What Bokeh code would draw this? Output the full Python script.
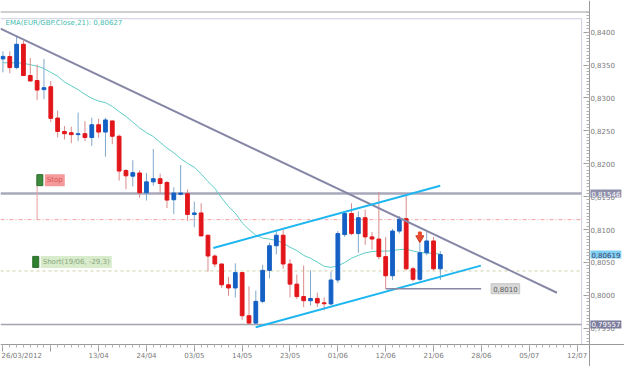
from bokeh.plotting import figure
from bokeh.models import Range1d, FixedTicker, CustomJSTickFormatter, Label, ColumnDataSource
from bokeh.embed import file_html
from bokeh.resources import INLINE

# ---------------- data (EUR/GBP daily, bar index 0 = 26/03/2012) ----------------
tick_idx = [0, 7, 14, 21, 28, 35, 42, 49, 56, 63, 70, 77, 84]
tick_labels = ["26/03/2012", "", "13/04", "24/04", "03/05", "14/05", "23/05",
               "01/06", "12/06", "21/06", "28/06", "05/07", "12/07"]

opens = [0.83592, 0.83628, 0.83461, 0.83815, 0.83340, 0.83264, 0.83126, 0.83170, 0.82694, 0.82490,
         0.82471, 0.82442, 0.82456, 0.82398, 0.82592, 0.82481, 0.82650, 0.82417, 0.81896, 0.81811,
         0.81859, 0.81558, 0.81724, 0.81772, 0.81714, 0.81452, 0.81535, 0.81543, 0.81229, 0.81252,
         0.80913, 0.80597, 0.80476, 0.80160, 0.80112, 0.80345, 0.79690, 0.79578, 0.79908, 0.80379,
         0.80753, 0.80913, 0.80476, 0.80170, 0.79981, 0.79918, 0.79952, 0.79886, 0.79869, 0.80233,
         0.80923, 0.81243, 0.80938, 0.81179, 0.80888, 0.80855, 0.80588, 0.80297, 0.80976, 0.81165,
         0.80403, 0.80243, 0.80646, 0.80826, 0.80403]
highs = [0.83708, 0.83708, 0.83946, 0.83869, 0.83607, 0.83505, 0.83592, 0.83257, 0.82806, 0.82573,
         0.82563, 0.82777, 0.82646, 0.82699, 0.82685, 0.82699, 0.82655, 0.82442, 0.81918, 0.82053,
         0.81903, 0.81859, 0.82223, 0.81849, 0.81738, 0.81641, 0.81980, 0.81607, 0.81423, 0.81398,
         0.80918, 0.80622, 0.80480, 0.80282, 0.80486, 0.80350, 0.80137, 0.80073, 0.80462, 0.80801,
         0.80996, 0.80996, 0.80549, 0.80316, 0.80451, 0.80379, 0.80039, 0.79967, 0.80360, 0.80976,
         0.81277, 0.81398, 0.81277, 0.81302, 0.80961, 0.81568, 0.80888, 0.81010, 0.81204, 0.81510,
         0.80432, 0.80792, 0.80961, 0.80888, 0.80670]
lows = [0.83388, 0.83374, 0.83436, 0.83330, 0.83250, 0.82966, 0.82980, 0.82631, 0.82398, 0.82369,
        0.82311, 0.82344, 0.82344, 0.82271, 0.82394, 0.82107, 0.82296, 0.81743, 0.81612, 0.81655,
        0.81481, 0.81441, 0.81666, 0.81554, 0.81325, 0.81233, 0.81520, 0.81131, 0.81034, 0.80898,
        0.80360, 0.80428, 0.80112, 0.79991, 0.79967, 0.79627, 0.79557, 0.79560, 0.79879, 0.80258,
        0.80622, 0.80403, 0.79967, 0.79942, 0.79821, 0.79846, 0.79821, 0.79773, 0.79850, 0.80185,
        0.80888, 0.80913, 0.80646, 0.80767, 0.80695, 0.80549, 0.80100, 0.80233, 0.80938, 0.80379,
        0.80210, 0.80218, 0.80607, 0.80379, 0.80233]
closes = [0.83631, 0.83461, 0.83815, 0.83340, 0.83257, 0.83119, 0.83155, 0.82689, 0.82490, 0.82456,
          0.82442, 0.82456, 0.82398, 0.82592, 0.82481, 0.82665, 0.82417, 0.81888, 0.81816, 0.81864,
          0.81558, 0.81724, 0.81772, 0.81699, 0.81447, 0.81554, 0.81554, 0.81229, 0.81252, 0.80903,
          0.80597, 0.80476, 0.80160, 0.80112, 0.80345, 0.79690, 0.79578, 0.79908, 0.80379, 0.80753,
          0.80913, 0.80476, 0.80170, 0.79981, 0.79918, 0.79952, 0.79884, 0.79872, 0.80233, 0.80938,
          0.81243, 0.80938, 0.81179, 0.80888, 0.80855, 0.80588, 0.80297, 0.80976, 0.81156, 0.80403,
          0.80243, 0.80646, 0.80826, 0.80403, 0.80619]
ema21 = [0.83534, 0.83534, 0.83534, 0.83526, 0.83505, 0.83483, 0.83446, 0.83388, 0.83330, 0.83243,
         0.83184, 0.83126, 0.83053, 0.82995, 0.82951, 0.82929, 0.82871, 0.82791, 0.82718, 0.82631,
         0.82544, 0.82471, 0.82413, 0.82325, 0.82238, 0.82165, 0.82078, 0.82005, 0.81947, 0.81845,
         0.81728, 0.81626, 0.81481, 0.81350, 0.81248, 0.81102, 0.81000, 0.80913, 0.80869, 0.80855,
         0.80833, 0.80796, 0.80731, 0.80680, 0.80607, 0.80563, 0.80505, 0.80440, 0.80425, 0.80447,
         0.80498, 0.80563, 0.80607, 0.80644, 0.80665, 0.80673, 0.80670, 0.80680, 0.80695, 0.80702,
         0.80673, 0.80651, 0.80644, 0.80636, 0.80627]

# drawn objects (bar index, price)
trend_idx, trend_px = [-0.36, 81.06], [0.84054, 0.80039]
chan_up_idx, chan_up_px = [30.78, 63.98], [0.80719, 0.81666]
chan_lo_idx, chan_lo_px = [36.98, 69.93], [0.79515, 0.80451]
level_0801_idx, level_0801_px = [56, 69.97], [0.80100, 0.80100]
resistance = 0.81546
support = 0.79557
stop_price, stop_flag_price, stop_idx = 0.81150, 0.81750, 5
short_price, short_flag_price, short_idx = 0.80370, 0.80508, 4.8
arrow_idx, arrow_price = 61, 0.80869
last_close = 0.80619
ema_last = 0.80627

y_ticks = [0.795, 0.800, 0.805, 0.810, 0.815, 0.820, 0.825, 0.830, 0.835, 0.840]

# ---------------- layout helpers (reference-image pixels -> data) ----------------
W, H = 624, 366                 # canvas
REF_W, REF_H = 640, 382         # reference picture, mapped onto the canvas
X0_PX, BAR_PX = 2.5, 7.01       # ref x of bar 0, pixels per bar
Y_ANCHOR_PX, Y_ANCHOR, PX_PER_UNIT = 307.7, 0.8, 6868.0


def bar_at(px):
    return (px - X0_PX) / BAR_PX


def price_at(py):
    return Y_ANCHOR + (Y_ANCHOR_PX - py) / PX_PER_UNIT


x_lo, x_hi = bar_at(0), bar_at(REF_W)
AXIS_X = bar_at(604)            # right price axis
INNER_X = bar_at(596)           # right edge of the drawing area
AXIS_Y = price_at(359)          # date axis

FONT = "DejaVu Sans"
p = figure(width=W, height=H, x_range=Range1d(x_lo, x_hi), y_range=Range1d(price_at(REF_H), price_at(0)),
           output_backend="svg", toolbar_location=None, y_axis_location="right", min_border=0)
p.outline_line_color = None
p.grid.visible = False
p.background_fill_color = "white"
p.border_fill_color = "white"

xa = p.xaxis[0]
ya = p.yaxis[0]
xa.fixed_location = AXIS_Y
ya.fixed_location = AXIS_X
xa.ticker = FixedTicker(ticks=tick_idx, minor_ticks=list(range(0, 85)))
overrides = {i: t for i, t in zip(tick_idx, tick_labels)}
overrides[tick_idx[0]] = ""      # first label is drawn left-aligned below
xa.major_label_overrides = overrides
ya.ticker = FixedTicker(ticks=y_ticks, minor_ticks=[round(0.7930 + 0.0005 * i, 4) for i in range(101)])
ya.formatter = CustomJSTickFormatter(code="return tick.toFixed(4).replace('.', ',');")
for ax in (xa, ya):
    ax.axis_line_color = "#9a9a9a"
    ax.major_tick_line_color = "#9a9a9a"
    ax.minor_tick_line_color = "#b0b0b0"
    ax.major_label_text_color = "#7a7a7a"
    ax.major_label_text_font = FONT
    ax.major_label_text_font_size = "7px"
xa.major_tick_in, xa.major_tick_out = 0, 7
xa.minor_tick_in, xa.minor_tick_out = 0, 3
xa.major_label_standoff = 1
ya.major_tick_in, ya.major_tick_out = 6, 0
ya.minor_tick_in, ya.minor_tick_out = 3, 0
ya.major_label_standoff = 1

# frame decoration (outer top rule, inner lavender border)
p.segment(x0=[x_lo], y0=[price_at(12)], x1=[AXIS_X], y1=[price_at(12)], line_color="#a0a0a0", line_width=1)
p.segment(x0=[x_lo, INNER_X], y0=[price_at(19), price_at(19)], x1=[INNER_X, INNER_X],
          y1=[price_at(19), AXIS_Y], line_color="#cfcfe0", line_width=1)

# horizontal levels
p.segment(x0=[x_lo], y0=[resistance], x1=[INNER_X], y1=[resistance], line_color="#a8a8bc", line_width=2.5)
p.segment(x0=[x_lo], y0=[support], x1=[INNER_X], y1=[support], line_color="#a4a4ac", line_width=1.5)
p.segment(x0=[x_lo], y0=[stop_price], x1=[INNER_X], y1=[stop_price], line_color="#f0a0a0", line_width=1,
          line_dash="4 2 1 2")
p.segment(x0=[x_lo], y0=[short_price], x1=[INNER_X], y1=[short_price], line_color="#cfcfa8", line_width=1,
          line_dash="3 3")

# EMA
idx = list(range(len(opens)))
p.line(idx, ema21, line_color="#5fcdc4", line_width=1)

# candles
up = [c >= o for o, c in zip(opens, closes)]
src = ColumnDataSource(dict(
    x=idx, h=highs, l=lows,
    top=[max(o, c) for o, c in zip(opens, closes)],
    bot=[min(o, c) for o, c in zip(opens, closes)],
    body=["#1560c4" if u else "#e2161a" for u in up],
    wick=["#80a8cc" if u else "#da8a8a" for u in up],
))
p.segment(x0="x", y0="h", x1="x", y1="l", line_color="wick", line_width=1, source=src)
p.vbar(x="x", width=0.55, top="top", bottom="bot", fill_color="body", line_color="body",
       line_width=1, source=src)

# trend lines / channel
p.line(trend_idx, trend_px, line_color="#8686a6", line_width=2)
p.line(chan_up_idx, chan_up_px, line_color="#1eb6f0", line_width=2)
p.line(chan_lo_idx, chan_lo_px, line_color="#1eb6f0", line_width=2)
p.line(level_0801_idx, level_0801_px, line_color="#8888a6", line_width=1.5)

# stop flag
p.segment(x0=[stop_idx], y0=[stop_price], x1=[stop_idx], y1=[stop_flag_price], line_color="#e8a0a0",
          line_width=1)
p.rect(x=[stop_idx + 0.4], y=[stop_flag_price], width=6, height=11, width_units="screen",
       height_units="screen", fill_color="#3c8a3c", line_color="#2f6f2f")
p.add_layout(Label(x=stop_idx + 0.4, y=stop_flag_price, text="Stop", text_font=FONT, text_font_size="7px",
                   text_color="#d85858", text_baseline="middle", text_align="left", x_offset=5,
                   background_fill_color="#f49a9a", padding=2))

# short flag
p.rect(x=[short_idx], y=[short_flag_price], width=6, height=11, width_units="screen",
       height_units="screen", fill_color="#2f7f2f", line_color="#2a6a2a")
p.add_layout(Label(x=short_idx, y=short_flag_price, text="Short(19/06, -29,3)", text_font=FONT,
                   text_font_size="7px", text_color="#8aa67e", text_baseline="middle", text_align="left",
                   x_offset=5, background_fill_color="#d8ebcb", padding=2))

# entry arrow
p.scatter(x=[arrow_idx], y=[arrow_price], marker="inverted_triangle", size=8, fill_color="#e84a2c",
          line_color="#c83a20")
p.rect(x=[arrow_idx], y=[arrow_price + 0.00055], width=3, height=5, width_units="screen",
       height_units="screen", fill_color="#e84a2c", line_color="#e84a2c")

# 0,8010 tag
p.add_layout(Label(x=level_0801_idx[1], y=level_0801_px[1], text="0,8010", text_font=FONT,
                   text_font_size="7px", text_color="#5a5a5a", text_baseline="middle", text_align="left",
                   x_offset=10, background_fill_color="#d8d8d8", border_line_color="#c4c4c4", padding=2))

# EMA legend
p.add_layout(Label(x=x_lo, y=price_at(24), x_offset=5,
                   text="EMA(EUR/GBP.Close,21): " + f"{ema_last:.5f}".replace(".", ","),
                   text_font=FONT, text_font_size="7px", text_color="#45bdb0", text_baseline="middle"))

# first date label, left-aligned at the canvas edge
p.add_layout(Label(x=x_lo, y=AXIS_Y, x_offset=1, y_offset=-8, text=tick_labels[0], text_font=FONT,
                   text_font_size="7px", text_color="#7a7a7a", text_baseline="top", text_align="left"))


# price tags on the right axis
def price_tag(price, bg, fg):
    p.add_layout(Label(x=AXIS_X, y=price, x_offset=1, text=f"{price:.5f}".replace(".", ","),
                       text_font=FONT, text_font_size="7px", text_color=fg, text_baseline="middle",
                       text_align="left", background_fill_color=bg, padding=1, level="overlay"))


price_tag(resistance, "#8f8faa", "#ffffff")
price_tag(last_close, "#7fd0f4", "#44446a")
price_tag(support, "#7c7c9c", "#ffffff")

open("out.html", "w").write(file_html(p, INLINE))
